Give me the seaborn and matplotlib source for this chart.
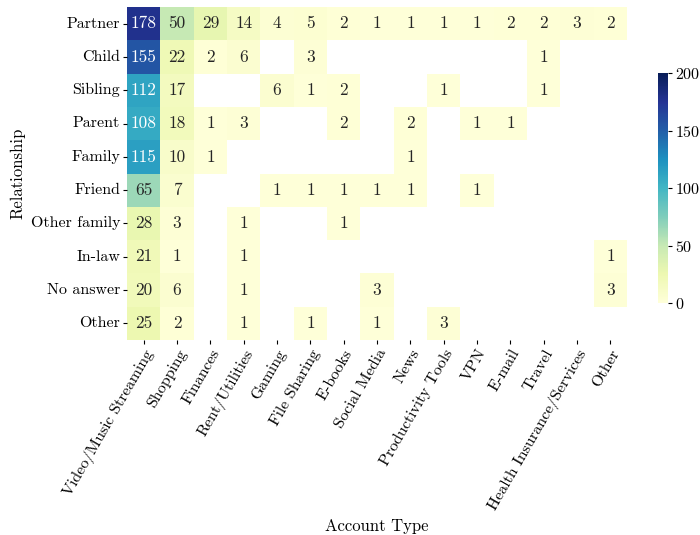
import numpy as np
import pandas as pd
import matplotlib
matplotlib.use("Agg")
import matplotlib.pyplot as plt
import seaborn as sns

nan = np.nan

account_types = ["Video/Music Streaming", "Shopping", "Finances", "Rent/Utilities", "Gaming",
                 "File Sharing", "E-books", "Social Media", "News", "Productivity Tools",
                 "VPN", "E-mail", "Travel", "Health Insurance/Services", "Other"]
relationships = ["Partner", "Child", "Sibling", "Parent", "Family", "Friend",
                 "Other family", "In-law", "No answer", "Other"]

# counts per relationship, one entry per account type (nan = no accounts)
partner      = [178, 50, 29, 14, 4, 5, 2, 1, 1, 1, 1, 2, 2, 3, 2]
child        = [155, 22, 2, 6, nan, 3, nan, nan, nan, nan, nan, nan, 1, nan, nan]
sibling      = [112, 17, nan, nan, 6, 1, 2, nan, nan, 1, nan, nan, 1, nan, nan]
parent       = [108, 18, 1, 3, nan, nan, 2, nan, 2, nan, 1, 1, nan, nan, nan]
family       = [115, 10, 1, nan, nan, nan, nan, nan, 1, nan, nan, nan, nan, nan, nan]
friend       = [65, 7, nan, nan, 1, 1, 1, 1, 1, nan, 1, nan, nan, nan, nan]
other_family = [28, 3, nan, 1, nan, nan, 1, nan, nan, nan, nan, nan, nan, nan, nan]
in_law       = [21, 1, nan, 1, nan, nan, nan, nan, nan, nan, nan, nan, nan, nan, 1]
no_answer    = [20, 6, nan, 1, nan, nan, nan, 3, nan, nan, nan, nan, nan, nan, 3]
other        = [25, 2, nan, 1, nan, 1, nan, 1, nan, 3, nan, nan, nan, nan, nan]

counts = pd.DataFrame(
    [partner, child, sibling, parent, family, friend, other_family, in_law, no_answer, other],
    index=relationships, columns=account_types)

plt.rcParams["font.family"] = "serif"
plt.rcParams["font.serif"] = ["cmr10", "DejaVu Serif"]
plt.rcParams["axes.formatter.use_mathtext"] = True
plt.rcParams["mathtext.fontset"] = "cm"

fig = plt.figure(figsize=(7, 5.35), dpi=100)
ax = fig.add_axes([127 / 700, 1 - 340 / 535, 500 / 700, 333 / 535])
cax = fig.add_axes([658 / 700, 1 - 303 / 535, 10 / 700, 230 / 535])

sns.heatmap(counts, ax=ax, cbar_ax=cax, cmap="YlGnBu", vmin=0, vmax=200,
            annot=True, fmt=".0f", annot_kws={"size": 12.5})

ax.set_xlabel("Account Type", fontsize=12)
ax.set_ylabel("Relationship", fontsize=12)
ax.tick_params(axis="both", labelsize=11.5, length=3, pad=2)
plt.setp(ax.get_xticklabels(), rotation=60, ha="right", rotation_mode="anchor")
plt.setp(ax.get_yticklabels(), rotation=0)
cax.tick_params(labelsize=11.5, length=3, pad=2)
cax.set_yticks([0, 50, 100, 150, 200])

fig.savefig("out.png", dpi=100)
